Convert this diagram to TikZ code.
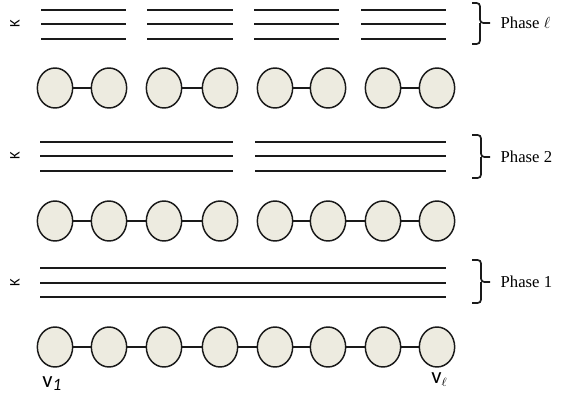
\documentclass[tikz,border=0pt]{standalone}
\usepackage{fontspec}
\setmainfont{Liberation Serif}
\newfontfamily\labfont{Carlito}
\usetikzlibrary{shapes.geometric}
\definecolor{nodefill}{HTML}{EDEBE0}
\definecolor{inkc}{HTML}{1A1A1A}
\tikzset{
  vnode/.style={ellipse,draw=inkc,line width=1.1pt,fill=nodefill,minimum width=26.5pt,minimum height=30pt,inner sep=0pt},
  edgeln/.style={draw=inkc,line width=1.5pt},
  bar/.style={draw=inkc,line width=1.8pt},
  brace/.style={draw=inkc,line width=1.3pt,rounded corners=2.5pt},
  klab/.style={font=\labfont\fontsize{11}{12}\selectfont,rotate=90},
  phlab/.style={font=\fontsize{12.5}{14}\selectfont,anchor=west},
  vlab/.style={font=\labfont\fontsize{17}{18}\selectfont,inner sep=0pt}
}
\begin{document}
\begin{tikzpicture}[x=0.75pt,y=-0.75pt]
\useasboundingbox (0,0) rectangle (561,396);
% Phase l bars
\foreach \a/\b [count=\i] in {41/126,147/233,254/339,361/446}{
  \foreach \yy [count=\j] in {10,24,39}{
    \coordinate (pl-\i-\j-a) at (\a,\yy);
    \coordinate (pl-\i-\j-b) at (\b,\yy);
    \draw[bar] (pl-\i-\j-a) -- (pl-\i-\j-b);
  }
}
% Phase 2 bars
\foreach \a/\b [count=\i] in {40/233,255/446}{
  \foreach \yy [count=\j] in {142,156,171}{
    \coordinate (p2-\i-\j-a) at (\a,\yy);
    \coordinate (p2-\i-\j-b) at (\b,\yy);
    \draw[bar] (p2-\i-\j-a) -- (p2-\i-\j-b);
  }
}
% Phase 1 bars
\foreach \yy [count=\j] in {268,283,297}{
  \coordinate (p1-\j-a) at (40,\yy);
  \coordinate (p1-\j-b) at (446,\yy);
  \draw[bar] (p1-\j-a) -- (p1-\j-b);
}
% K labels
\node[klab] (k1) at (15,24) {K};
\node[klab] (k2) at (15,156) {K};
\node[klab] (k3) at (15,283) {K};
% node rows
\foreach \xx [count=\i] in {55,109,164,220,275,328,383,437}{
  \node[vnode] (a\i) at (\xx,88) {};
  \node[vnode] (b\i) at (\xx,221) {};
  \node[vnode] (c\i) at (\xx,347) {};
}
\foreach \i/\j in {1/2,3/4,5/6,7/8}{\draw[edgeln] (a\i) -- (a\j);}
\foreach \i/\j in {1/2,2/3,3/4,5/6,6/7,7/8}{\draw[edgeln] (b\i) -- (b\j);}
\foreach \i [evaluate=\i as \j using int(\i+1)] in {1,...,7}{\draw[edgeln] (c\i) -- (c\j);}
% braces
\draw[brace] (472,3) -- (480,3) -- (480,23) -- (490,23) (480,23) -- (480,44) -- (472,44);
\draw[brace] (472,135) -- (481,135) -- (481,157) -- (490,157) (481,157) -- (481,178) -- (472,178);
\draw[brace] (472,260) -- (481,260) -- (481,282) -- (490,282) (481,282) -- (481,303) -- (472,303);
\node[phlab] (ph3) at (496,23) {Phase $\ell$};
\node[phlab] (ph2) at (496,157) {Phase 2};
\node[phlab] (ph1) at (496,282) {Phase 1};
% vertex labels
\node[vlab,anchor=base west] (v1) at (42,387) {v\raisebox{-0.3ex}{\fontsize{13}{14}\selectfont\itshape 1}};
\node[vlab,anchor=base west] (vl) at (431,383) {v\raisebox{-0.35ex}{\fontsize{9}{10}\selectfont$\ell$}};
\end{tikzpicture}
\end{document}
